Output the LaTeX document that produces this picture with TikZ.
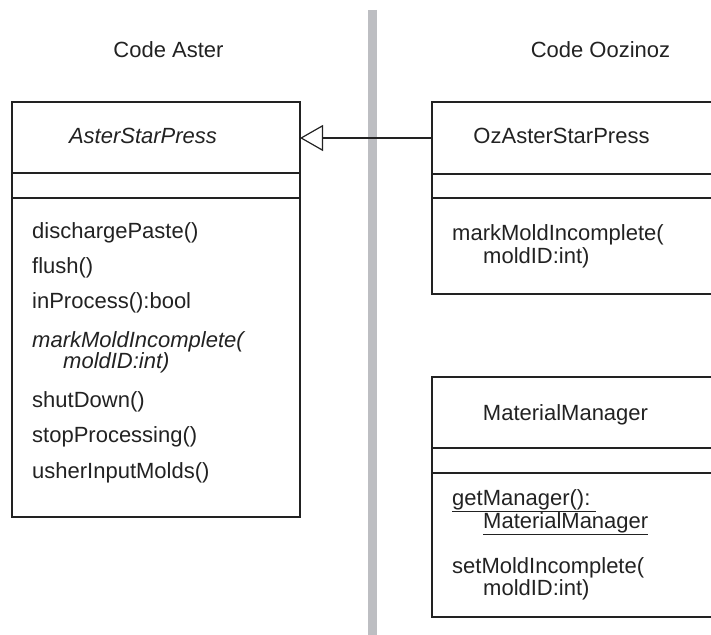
\documentclass[tikz,border=0pt]{standalone}
\usepackage{fontspec}
\setmainfont{Liberation Sans}
\usetikzlibrary{arrows.meta}
\definecolor{divgray}{HTML}{BDBEC2}
\definecolor{ink}{HTML}{222222}
\begin{document}
\begin{tikzpicture}[x=1pt,y=-1pt,
  every node/.style={font=\fontsize{22}{24}\selectfont, text=ink},
  box/.style={draw=ink, line width=1.2pt, rectangle},
  sep/.style={draw=ink, line width=1.2pt},
  meth/.style={anchor=west, inner sep=0pt, text height=16pt, text depth=5pt},
  title/.style={inner sep=0pt, text height=16pt, text depth=5pt},
  inherit/.style={draw=ink, line width=1.2pt, -{Triangle[open, length=23pt, width=26pt]}}
]
\useasboundingbox (0,0) rectangle (711,634);
\clip (0,0) rectangle (711,634);
% divider
\draw[divgray, line width=9pt] (372.2,10) -- (372.2,640);
% headings
\node[title] (hA) at (168.5,52) {Code Aster};
\node[title] (hO) at (600.5,52) {Code Oozinoz};
% AsterStarPress
\draw[box] (12,102) rectangle (300,517);
\coordinate (asterE) at (300,138);
\draw[sep] (12,173) -- (300,173);
\draw[sep] (12,198) -- (300,198);
\node[title] (aname) at (143,138) {\itshape AsterStarPress};
\node[meth] (a1) at (32,233) {dischargePaste()};
\node[meth] (a2) at (32,268) {flush()};
\node[meth] (a3) at (32,303) {inProcess():bool};
\node[meth] (a4) at (32,342) {\itshape markMoldIncomplete(};
\node[meth] (a4b) at (63,363) {\itshape moldID:int)};
\node[meth] (a5) at (32,402) {shutDown()};
\node[meth] (a6) at (32,437) {stopProcessing()};
\node[meth] (a7) at (32,473) {usherInputMolds()};
% OzAsterStarPress
\draw[box] (432,102) rectangle (760,294);
\coordinate (ozW) at (432,138);
\draw[sep] (432,174) -- (760,174);
\draw[sep] (432,198) -- (760,198);
\node[title] (oname) at (561.5,138) {OzAsterStarPress};
\node[meth] (o1) at (452,235) {markMoldIncomplete(};
\node[meth] (o1b) at (483,258) {moldID:int)};
% MaterialManager
\draw[box] (432,377) rectangle (760,617);
\draw[sep] (432,448) -- (760,448);
\draw[sep] (432,473) -- (760,473);
\node[title] (mname) at (565.5,415) {MaterialManager};
\node[meth] (m1) at (452,500) {\underline{getManager():\ }};
\node[meth] (m1b) at (483,523) {\underline{MaterialManager}};
\node[meth] (m2) at (452,568) {setMoldIncomplete(};
\node[meth] (m2b) at (483,590) {moldID:int)};
% inheritance
\draw[inherit] (ozW) -- (asterE);
\end{tikzpicture}
\end{document}
